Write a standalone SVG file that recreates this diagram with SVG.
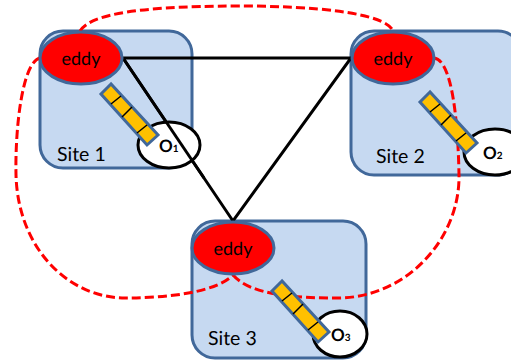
<svg xmlns="http://www.w3.org/2000/svg" width="511" height="360" viewBox="0 0 511 360">
<style>
text{font-family:"Lato","Open Sans",sans-serif;fill:#000;text-rendering:geometricPrecision}
.site{fill:#c6d9f1;stroke:#41689a;stroke-width:3}
.eddy{fill:#f00;stroke:#41689a;stroke-width:3}
.eddy-t{font-size:18px;text-anchor:middle}
.site-t{font-size:19.5px}
.obs{fill:#fff;stroke:#000;stroke-width:3}
.obs-t{font-size:17px;font-weight:700}
.obs-s{font-size:10px;font-weight:700}
.bar{fill:#ffc000;stroke:#41689a;stroke-width:3}
.div{stroke:#000;stroke-width:1.5;fill:none}
.solid{stroke:#000;stroke-width:3;fill:none}
.dash{stroke:#f00;stroke-width:3;fill:none;stroke-dasharray:9 4}
</style>
<defs>
<g id="barshape">
<path class="bar" d="M111 84L101 94L147 145L158 135Z"/>
<path class="div" d="M111 104L121 96M122 117L132 107M137 133L147 125"/>
</g>
</defs>
<g id="site1"><rect class="site" x="40" y="31" width="152" height="137" rx="23"/></g>
<g id="site2"><rect class="site" x="351" y="31" width="170" height="144" rx="23"/></g>
<g id="site3"><rect class="site" x="192" y="221" width="174" height="137" rx="23"/></g>
<g id="connectors">
<path class="solid" d="M123 58H351L233 221L123 58"/>
</g>
<g id="obs1"><ellipse class="obs" cx="169" cy="145" rx="31" ry="23"/><text class="obs-t" x="159" y="152">O<tspan class="obs-s">1</tspan></text></g>
<g id="obs2"><ellipse class="obs" cx="495" cy="152" rx="31" ry="23"/><text class="obs-t" x="483" y="159">O<tspan class="obs-s">2</tspan></text></g>
<g id="obs3"><ellipse class="obs" cx="340" cy="334" rx="27" ry="23"/><text class="obs-t" x="331" y="341">O<tspan class="obs-s">3</tspan></text></g>
<path class="solid" d="M123 58L204 178"/>
<g id="dashed">
<path class="dash" d="M80 31C88 18 120 6 240 6C310 6 385 12 393 31"/>
<path class="dash" d="M40 58C22 62 15 130 16 175C18 250 70 298 125 298C165 298 215 293 233 275"/>
<path class="dash" d="M434 58C452 60 458 120 459 175C460 240 405 298 338 298C295 298 250 295 233 275"/>
</g>
<g id="eddy1"><ellipse class="eddy" cx="81" cy="58" rx="41" ry="26"/><text class="eddy-t" x="81" y="65">eddy</text></g>
<g id="eddy2"><ellipse class="eddy" cx="393" cy="58" rx="41" ry="26"/><text class="eddy-t" x="393" y="65">eddy</text></g>
<g id="eddy3"><ellipse class="eddy" cx="233" cy="248" rx="41" ry="26"/><text class="eddy-t" x="233" y="255">eddy</text></g>
<g id="bar1"><use href="#barshape"/></g>
<g id="bar2"><use href="#barshape" transform="translate(319 8)"/></g>
<g id="bar3"><use href="#barshape" transform="translate(171 197)"/></g>
<text class="site-t" x="57" y="161">Site 1</text>
<text class="site-t" x="376" y="163">Site 2</text>
<text class="site-t" x="208" y="345">Site 3</text>
</svg>
